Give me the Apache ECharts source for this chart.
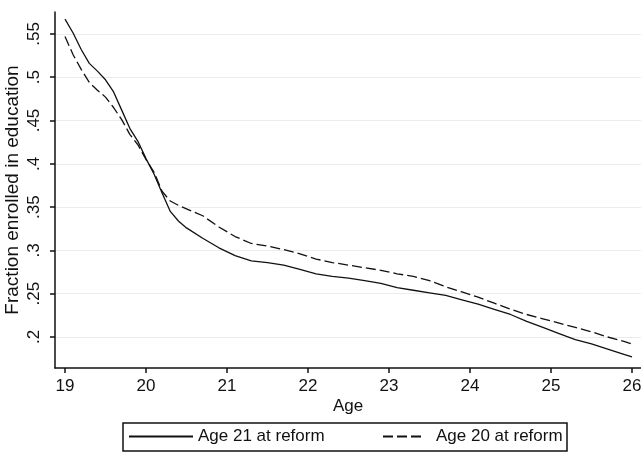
<!DOCTYPE html>
<html>
<head>
<meta charset="utf-8">
<script src="https://cdn.jsdelivr.net/npm/echarts@6/dist/echarts.min.js"></script>
<style>
  html, body { margin: 0; padding: 0; background: #fff; }
  #chart { width: 641px; height: 455px; }
</style>
</head>
<body>
<div id="chart"></div>
<script>
// Age grid (years) shared by both cohorts
const ages = [19.0, 19.1, 19.2, 19.3, 19.4, 19.5, 19.6, 19.7, 19.8, 19.9,
  20.0, 20.1, 20.2, 20.3, 20.4, 20.5, 20.7, 20.9, 21.1, 21.3, 21.5, 21.7, 21.9,
  22.1, 22.3, 22.5, 22.7, 22.9, 23.1, 23.3, 23.5, 23.7, 23.9, 24.1, 24.3, 24.5,
  24.7, 24.9, 25.1, 25.3, 25.5, 25.7, 25.9, 26.0];

// Fraction enrolled in education, cohort aged 21 at reform
const age21 = [0.567, 0.551, 0.532, 0.516, 0.507, 0.497, 0.483, 0.462, 0.441, 0.426,
  0.406, 0.388, 0.366, 0.345, 0.334, 0.326, 0.314, 0.303, 0.294, 0.288, 0.286, 0.283, 0.278,
  0.273, 0.270, 0.268, 0.265, 0.262, 0.257, 0.254, 0.251, 0.248, 0.243, 0.238, 0.232, 0.226,
  0.218, 0.211, 0.204, 0.197, 0.192, 0.186, 0.180, 0.177];

// Fraction enrolled in education, cohort aged 20 at reform
const age20 = [0.547, 0.526, 0.509, 0.494, 0.485, 0.477, 0.465, 0.451, 0.434, 0.422,
  0.405, 0.390, 0.368, 0.357, 0.352, 0.348, 0.340, 0.327, 0.316, 0.308, 0.305, 0.301, 0.296,
  0.290, 0.286, 0.283, 0.280, 0.277, 0.273, 0.270, 0.265, 0.258, 0.252, 0.246, 0.239, 0.232,
  0.226, 0.221, 0.216, 0.211, 0.206, 0.200, 0.195, 0.192];

const xTicks = [19, 20, 21, 22, 23, 24, 25, 26];
const yTicks = [0.2, 0.25, 0.3, 0.35, 0.4, 0.45, 0.5, 0.55];

const seriesNames = ['Age 21 at reform', 'Age 20 at reform'];

const FONT = '"Liberation Sans", Arial, sans-serif';
const pair = (xs, ys) => xs.map((x, i) => [x, ys[i]]);
const fmtY = v => v.toFixed(2).replace(/^0/, '').replace(/0$/, '');

// legend keys show the line only, no marker
const hiddenMarker = { color: 'rgba(0,0,0,0)', borderColor: 'rgba(0,0,0,0)', borderWidth: 0, opacity: 0 };

const chart = echarts.init(document.getElementById('chart'), null, { renderer: 'canvas' });

chart.setOption({
  animation: false,
  backgroundColor: '#fff',
  grid: { left: 55, right: 0, top: 12, bottom: 87, containLabel: false, outerBoundsMode: 'none' },
  xAxis: {
    type: 'value',
    min: 18.8765,
    max: 26.111,
    name: 'Age',
    nameLocation: 'middle',
    nameGap: 30,
    nameMoveOverlap: false,
    nameTextStyle: { fontFamily: FONT, fontSize: 17, color: '#111' },
    axisLine: { show: true, onZero: false, lineStyle: { color: '#111', width: 1.5 } },
    axisTick: { show: true, length: 5, customValues: xTicks, lineStyle: { color: '#111', width: 1.5 } },
    axisLabel: { customValues: xTicks, margin: 10, fontFamily: FONT, fontSize: 17, color: '#111' },
    splitLine: { show: false }
  },
  yAxis: {
    type: 'value',
    min: 0.1642,
    max: 0.5753,
    name: 'Fraction enrolled in education',
    nameLocation: 'middle',
    nameRotate: 90,
    nameGap: 33,
    nameMoveOverlap: false,
    nameTextStyle: { fontFamily: FONT, fontSize: 19, color: '#111' },
    axisLine: { show: true, onZero: false, lineStyle: { color: '#111', width: 1.5 } },
    axisTick: { show: true, length: 5, customValues: yTicks, lineStyle: { color: '#111', width: 1.5 } },
    axisLabel: {
      customValues: yTicks, rotate: 90, margin: 12,
      fontFamily: FONT, fontSize: 17, color: '#111', formatter: fmtY
    },
    splitLine: { show: true, lineStyle: { color: '#ececec', width: 1 } }
  },
  legend: [
    {
      data: [seriesNames[0]],
      left: 128, top: 428, padding: 0,
      itemWidth: 64, itemHeight: 14,
      itemStyle: hiddenMarker,
      textStyle: { fontFamily: FONT, fontSize: 17, color: '#111' }
    },
    {
      data: [seriesNames[1]],
      left: 382, top: 428, padding: 0,
      itemWidth: 38, itemHeight: 14,
      itemStyle: hiddenMarker,
      textStyle: { fontFamily: FONT, fontSize: 17, color: '#111', padding: [0, 0, 0, 10] }
    }
  ],
  graphic: [
    {
      type: 'rect',
      shape: { x: 123, y: 423, width: 444, height: 28 },
      style: { fill: 'none', stroke: '#111', lineWidth: 1.5 },
      silent: true
    }
  ],
  series: [
    {
      name: seriesNames[0],
      type: 'line',
      data: pair(ages, age21),
      symbol: 'none',
      lineStyle: { color: '#111', width: 1.3, type: 'solid' },
      itemStyle: { color: '#111' }
    },
    {
      name: seriesNames[1],
      type: 'line',
      data: pair(ages, age20),
      symbol: 'none',
      lineStyle: { color: '#111', width: 1.3, type: [10, 4] },
      itemStyle: { color: '#111' }
    }
  ]
});
</script>
</body>
</html>
